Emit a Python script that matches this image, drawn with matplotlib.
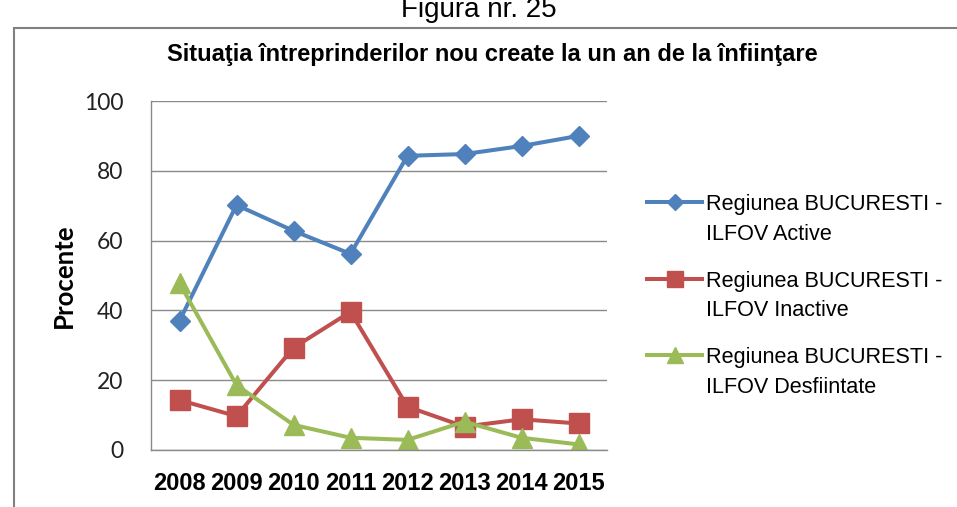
"""Situaţia întreprinderilor nou create la un an de la înfiinţare (Figura nr. 25)."""

import matplotlib
matplotlib.use("Agg")
import matplotlib.pyplot as plt
from matplotlib.lines import Line2D
from matplotlib.patches import Rectangle

# date
years = ["2008", "2009", "2010", "2011", "2012", "2013", "2014", "2015"]
active = [37, 70.2, 62.8, 56.2, 84.3, 84.8, 87.1, 90]
inactive = [14.3, 9.7, 29.3, 39.6, 12.4, 6.7, 8.8, 7.6]
desfiintate = [47.8, 18.6, 7.2, 3.5, 2.9, 8.1, 3.5, 1.6]
labels = [
    "Regiunea BUCURESTI -\nILFOV Active",
    "Regiunea BUCURESTI -\nILFOV Inactive",
    "Regiunea BUCURESTI -\nILFOV Desfiintate",
]
y_ticks = [0, 20, 40, 60, 80, 100]

arial = ["Liberation Sans", "DejaVu Sans"]
calibri = ["Lato", "DejaVu Sans"]

fig = plt.figure(figsize=(9.57, 5.07), dpi=100)
W, H = 957, 507

# chenarul graficului
fig.patches.append(Rectangle((14 / W, -0.1), 1.0, (H - 28) / H + 0.1,
                             transform=fig.transFigure, fill=False,
                             edgecolor="#808080", linewidth=1.5))

fig.text(0.5, 1 - 17 / H, "Figura nr. 25", ha="center", va="baseline",
         fontsize=20, family=arial)
fig.text(492 / W, 1 - 54 / H,
         "Situaţia întreprinderilor nou create la un an de la înfiinţare",
         ha="center", va="center", fontsize=17, fontweight="bold", family=arial)

ax = fig.add_axes([151 / W, 1 - 450 / H, 456 / W, 349 / H])
x = range(len(years))
styles = [("#4F81BD", "D", 10), ("#C0504D", "s", 14), ("#9BBB59", "^", 14)]
for values, (col, mk, size) in zip([active, inactive, desfiintate], styles):
    ax.plot(x, values, color=col, lw=2.9, marker=mk, ms=size)

ax.set_xlim(-0.5, len(years) - 0.5)
ax.set_ylim(0, 100)
ax.set_yticks(y_ticks)
ax.set_yticklabels([str(v) for v in y_ticks], fontsize=16.5, family=calibri, color="#222222")
ax.set_xticks(list(x))
ax.set_xticklabels(years, fontsize=17, fontweight="bold", family=arial)
ax.tick_params(length=0)
ax.tick_params(axis="x", pad=16)
ax.tick_params(axis="y", pad=20)
ax.yaxis.grid(True, color="#8a8a8a", linewidth=1.0)
ax.set_axisbelow(True)
for side in ["top", "right"]:
    ax.spines[side].set_visible(False)
for side in ["left", "bottom"]:
    ax.spines[side].set_color("#8a8a8a")
    ax.spines[side].set_linewidth(1.0)
ax.set_ylabel("Procente", fontsize=18.5, fontweight="bold", family=calibri, labelpad=6)

# legenda desenata manual: simbolul langa primul rand al textului
for i, (lab, (col, mk, size)) in enumerate(zip(labels, styles)):
    yc = 1 - (202 + i * 76.5) / H
    fig.add_artist(Line2D([647 / W, 702 / W], [yc, yc], transform=fig.transFigure,
                          color=col, lw=2.9))
    fig.add_artist(Line2D([674.5 / W], [yc], transform=fig.transFigure,
                          color=col, marker=mk, ms=size * 0.85, lw=0))
    fig.text(706 / W, yc + 8 / H, lab, ha="left", va="top", fontsize=15.6,
             family=arial, linespacing=1.55)

fig.savefig("out.png", dpi=100)
